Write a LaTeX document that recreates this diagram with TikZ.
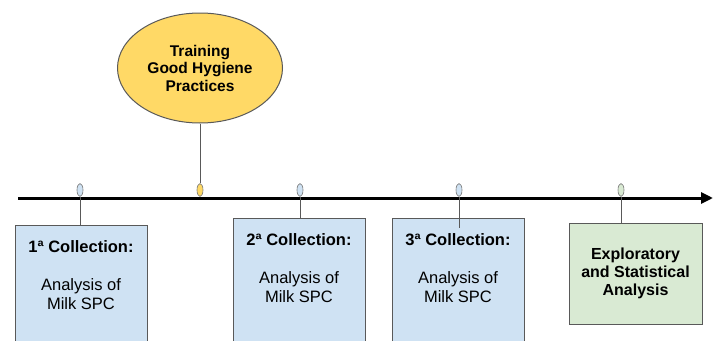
\documentclass[tikz,border=0pt]{standalone}
\usepackage{fontspec}
\setmainfont{Liberation Sans}
\usetikzlibrary{arrows.meta,shapes.geometric}
\definecolor{boxblue}{HTML}{CFE2F3}
\definecolor{boxgreen}{HTML}{D9EAD3}
\definecolor{hyg}{HTML}{FFD966}
\definecolor{edge}{HTML}{595959}
\tikzset{
  every node/.style={font=\fontsize{16.5}{18.5}\selectfont},
  bluebox/.style={draw=edge, line width=1pt, fill=boxblue, minimum width=132pt, minimum height=130pt, inner sep=0pt, anchor=north},
  greenbox/.style={draw=edge, line width=1pt, fill=boxgreen, minimum width=133pt, minimum height=101pt, inner sep=0pt, align=center, font=\fontsize{16}{18}\selectfont\bfseries},
  marker/.style={ellipse, draw=edge!80, line width=0.6pt, minimum width=6pt, minimum height=13pt, inner sep=0pt},
  conn/.style={draw=edge, line width=1pt},
  ttl/.style={font=\fontsize{16.5}{18.5}\selectfont\bfseries, inner sep=0pt},
  bdy/.style={align=center, inner sep=0pt},
}
\begin{document}
\begin{tikzpicture}[x=1pt,y=-1pt]
\useasboundingbox (0,0) rectangle (720,340);
\clip (0,0) rectangle (720,340);
% boxes
\node[bluebox] (b1) at (81,225) {};
\node[bluebox] (b2) at (299,218) {};
\node[bluebox] (b3) at (458,218) {};
\node[greenbox] (g) at (635.5,273.5) {Exploratory\\and Statistical\\Analysis};
% box texts
\node[ttl] (t1) at ([yshift=-22pt]b1.north) {1ª Collection:};
\node[bdy] (d1) at ([yshift=-69pt]b1.north) {Analysis of\\Milk SPC};
\node[ttl] (t2) at ([yshift=-22pt]b2.north) {2ª Collection:};
\node[bdy] (d2) at ([yshift=-69pt]b2.north) {Analysis of\\Milk SPC};
\node[ttl] (t3) at ([yshift=-22pt]b3.north) {3ª Collection:};
\node[bdy] (d3) at ([yshift=-69pt]b3.north) {Analysis of\\Milk SPC};
% ellipse
\node[ellipse, draw=edge, line width=1pt, fill=hyg, minimum width=165pt, minimum height=110pt, inner sep=0pt, align=center, font=\fontsize{15.5}{17.5}\selectfont\bfseries] (tr) at (200,68) {Training\\Good Hygiene\\Practices};
% timeline
\coordinate (ls) at (18,198);
\coordinate (le) at (713,198);
\draw[line width=3pt, -{Triangle[length=12pt,width=11pt]}] (ls) -- (le);
% markers
\node[marker, fill=boxblue] (m1) at (80,190) {};
\node[marker, fill=hyg] (m2) at (200,190) {};
\node[marker, fill=boxblue] (m3) at (300,190) {};
\node[marker, fill=boxblue] (m4) at (459,190) {};
\node[marker, fill=boxgreen] (m5) at (621,190) {};
% connectors
\coordinate (e4) at (459,228);
\draw[conn] (tr.south) -- (m2.north);
\draw[conn] (m1.south) -- (m1.south |- b1.north);
\draw[conn] (m3.south) -- (m3.south |- b2.north);
\draw[conn] (m4.south) -- (e4);
\draw[conn] (m5.south) -- (m5.south |- g.north);
\end{tikzpicture}
\end{document}
